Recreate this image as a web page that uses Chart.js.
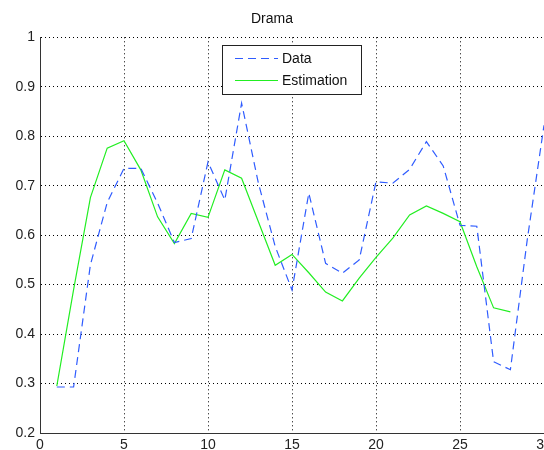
<!DOCTYPE html>
<html>
<head>
<meta charset="utf-8">
<script src="https://cdn.jsdelivr.net/npm/chart.js@4/dist/chart.umd.min.js"></script>
<style>
html,body{margin:0;padding:0;background:#fff;overflow:hidden;}
#wrap{width:580px;height:460px;position:relative;}
</style>
</head>
<body>
<div id="wrap"><canvas id="c" width="580" height="460"></canvas></div>
<script>
const chartTitle = 'Drama';
const seriesNames = ['Data', 'Estimation'];
const dataX = [1,2,3,4,5,6,7,8,9,10,11,12,13,14,15,16,17,18,19,20,21,22,23,24,25,26,27,28,29,30];
const dataValues = [0.293,0.293,0.54,0.666,0.735,0.735,0.665,0.585,0.593,0.748,0.671,0.867,0.705,0.577,0.489,0.685,0.543,0.523,0.55,0.708,0.705,0.733,0.789,0.74,0.62,0.618,0.344,0.328,0.59,0.822];
const estX = [1,2,3,4,5,6,7,8,9,10,11,12,13,14,15,16,17,18,19,20,21,22,23,24,25,26,27,28];
const estValues = [0.295,0.49,0.676,0.776,0.791,0.732,0.637,0.583,0.644,0.636,0.732,0.715,0.627,0.539,0.561,0.524,0.485,0.467,0.513,0.555,0.594,0.641,0.659,0.644,0.627,0.536,0.453,0.445];
const xTicks = [0,5,10,15,20,25,30];
const yTicks = [0.2,0.3,0.4,0.5,0.6,0.7,0.8,0.9,1];

const FONT = '"Liberation Sans", Arial, sans-serif';

const boxLegend = {
  id: 'boxLegend',
  afterDraw(chart) {
    const ctx = chart.ctx;
    ctx.save();
    const x0 = 222.5, y0 = 45.5, w = 139, h = 49;
    ctx.fillStyle = '#ffffff';
    ctx.fillRect(x0, y0, w, h);
    ctx.strokeStyle = '#222222';
    ctx.lineWidth = 1;
    ctx.setLineDash([]);
    ctx.strokeRect(x0, y0, w, h);
    chart.data.datasets.forEach((ds, i) => {
      const yy = 58.5 + i * 22;
      ctx.strokeStyle = ds.borderColor;
      ctx.lineWidth = ds.borderWidth;
      ctx.setLineDash(ds.borderDash || []);
      ctx.beginPath();
      ctx.moveTo(235, yy);
      ctx.lineTo(278, yy);
      ctx.stroke();
      ctx.setLineDash([]);
      ctx.fillStyle = '#111111';
      ctx.font = '14px ' + FONT;
      ctx.textBaseline = 'middle';
      ctx.textAlign = 'left';
      ctx.fillText(ds.label, 282, yy + 0.5);
    });
    ctx.restore();
  }
};

new Chart(document.getElementById('c'), {
  type: 'line',
  data: {
    datasets: [
      {
        label: seriesNames[0],
        data: dataX.map((x, i) => ({x: x, y: dataValues[i]})),
        borderColor: '#2f5cff',
        borderWidth: 1.2,
        borderDash: [8, 5],
        pointRadius: 0,
        fill: false,
        tension: 0
      },
      {
        label: seriesNames[1],
        data: estX.map((x, i) => ({x: x, y: estValues[i]})),
        borderColor: '#22ee22',
        borderWidth: 1.2,
        pointRadius: 0,
        fill: false,
        tension: 0
      }
    ]
  },
  options: {
    responsive: false,
    animation: false,
    devicePixelRatio: 1,
    layout: {padding: {left: 0, right: 36, top: 0, bottom: 0}},
    plugins: {
      legend: {display: false},
      tooltip: {enabled: false},
      title: {
        display: true,
        text: chartTitle,
        color: '#111111',
        font: {family: FONT, size: 14, weight: 'normal'},
        padding: {top: 10.5, bottom: 10}
      }
    },
    scales: {
      x: {
        type: 'linear',
        min: 0,
        max: 30,
        afterFit(scale) { scale.height = 27; },
        afterBuildTicks(scale) { scale.ticks = xTicks.map(v => ({value: v})); },
        ticks: {
          color: '#222222',
          font: {family: FONT, size: 14},
          padding: 4,
          maxRotation: 0,
          autoSkip: false,
          callback: v => String(v)
        },
        grid: {color: '#000000', lineWidth: 1, drawTicks: false},
        border: {display: true, color: '#333333', width: 1, dash: [1, 3]}
      },
      y: {
        type: 'linear',
        min: 0.2,
        max: 1,
        afterFit(scale) { scale.width = 40; },
        afterBuildTicks(scale) { scale.ticks = yTicks.map(v => ({value: v})); },
        ticks: {
          color: '#222222',
          font: {family: FONT, size: 14},
          padding: 5,
          autoSkip: false,
          callback: v => String(Number(v.toFixed(1)))
        },
        grid: {color: '#000000', lineWidth: 1, drawTicks: false},
        border: {display: true, color: '#333333', width: 1, dash: [1, 3]}
      }
    }
  },
  plugins: [boxLegend]
});
</script>
</body>
</html>
